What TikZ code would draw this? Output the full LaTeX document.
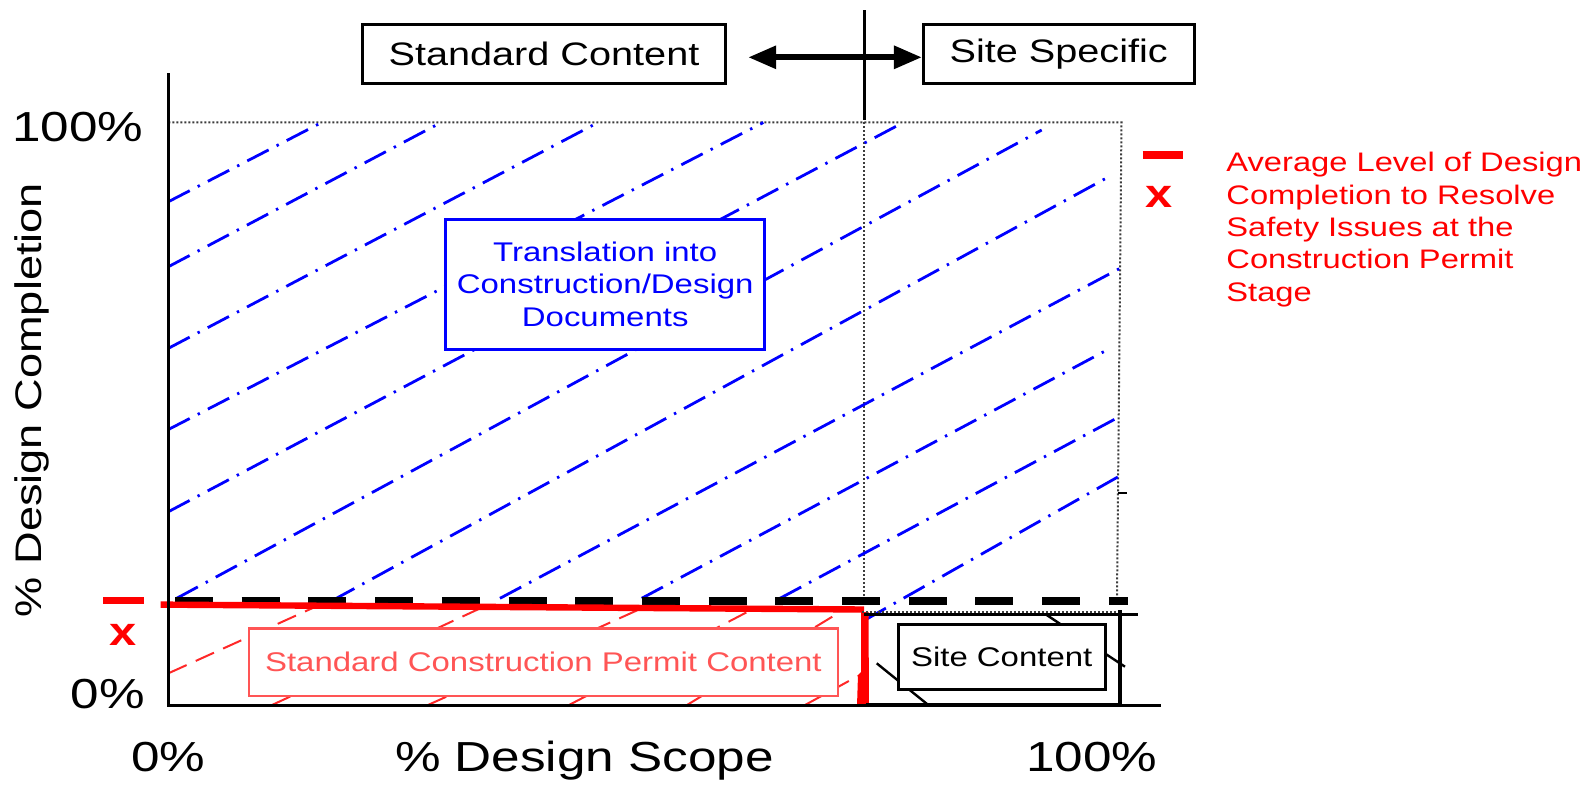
\documentclass[tikz,border=0pt]{standalone}
\usepackage{fontspec}
\setmainfont[FakeStretch=1.22]{Liberation Sans}
\usetikzlibrary{arrows.meta}

\definecolor{lightred}{RGB}{255,85,85}
\definecolor{hatchred}{RGB}{255,40,40}
\definecolor{dotgray}{RGB}{60,60,60}

\begin{document}
\begin{tikzpicture}[x=0.5pt,y=-0.5pt,
  biglbl/.style={inner sep=0pt, font=\fontsize{21pt}{25pt}\selectfont},
  medlbl/.style={font=\fontsize{13.5pt}{16.3pt}\selectfont},
  hdrbox/.style={draw, line width=1.5pt, inner sep=0pt, minimum height=29.5pt,
    font=\fontsize{16.25pt}{19pt}\selectfont},
  dotline/.style={dotgray, line width=1pt, dash pattern=on 1pt off 1pt},
  bluehatch/.style={blue, line width=1.4pt, dash pattern=on 12pt off 4.5pt on 1.2pt off 4.5pt},
  redhatch/.style={hatchred, line width=1pt, dash pattern=on 10pt off 5pt},
  dblarrow/.style={{Triangle[length=14pt,width=11pt]}-{Triangle[length=14pt,width=11pt]}, line width=3pt},
  xmark/.style={red, inner sep=0pt, font=\bfseries\fontsize{20pt}{24pt}\selectfont},
]
\useasboundingbox (0,0) rectangle (1592,784);

% dotted frame of the chart area
\draw[dotline] (168.4,122.4) -- (1121.5,122.4) -- (1117,598);
\draw[dotline] (863.5,122.4) -- (863.5,596);
\draw[line width=0.8pt] (1118,493) -- (1127,493);

% hatching of the design documents region
\foreach \a/\b/\c/\d in {168.4/201.7/321.6/122.5, 168.4/266.7/441/122.5,
    168.4/348.3/598/122.5, 168.4/429.5/763.3/122.5, 168.4/511.7/903.3/122.5,
    176.7/598.3/1041.7/130, 333.3/600/1112/175, 500/598.3/1120/268.3,
    641.7/598.3/1108.3/349.3, 780/598.3/1117/418, 865/620/1118.3/476.7}
  \draw[bluehatch] (\a,\b) -- (\c,\d);

% hatching of the permit content region
\foreach \a/\b/\c/\d in {168.4/673.3/316/606.5, 272/705/483/607, 428/705/640/609,
    569/705/752/609.5, 687/705/840/612, 805/705/858/676}
  \draw[redhatch] (\a,\b) -- (\c,\d);

% region labels
\node[draw=blue, line width=1.5pt, fill=white, text=blue, minimum width=159.4pt,
  minimum height=65pt, align=center, medlbl, inner sep=0pt] (transl) at (605.2,284.3)
  {Translation into\\Construction/Design\\Documents};
\node[draw=lightred, line width=1.2pt, fill=white, text=lightred, minimum width=294.6pt,
  minimum height=33.85pt, medlbl, inner sep=0pt] (stdpermit) at (543.4,662.2)
  {Standard Construction Permit Content};

% average completion level
\draw[line width=4pt, dash pattern=on 19pt off 14.35pt] (175,601.2) -- (1128,601.2);
\draw[red, line width=3.2pt] (160.7,604.6) -- (864,609.5);
\fill[red] (861,612) -- (868.5,612) -- (869,706) -- (857,706) -- (858,675) -- (861,672) -- cycle;

% site specific block
\draw[line width=1.5pt] (864,614) -- (1138,614);
\draw[dotline] (862,611.5) -- (1120,611.5);
\draw[line width=2pt] (1120,610) -- (1120,706);
\draw[line width=2.2pt] (866,705) -- (1120,705);
\draw[line width=1.2pt] (876.7,663.3) -- (928.3,705);
\draw[line width=1.2pt] (1046.7,615) -- (1125,666.7);
\node[draw, line width=1.5pt, fill=white, minimum width=103.35pt, minimum height=32.5pt,
  inner sep=0pt, medlbl] (site) at (1001.7,656.5) {Site Content};

% axes
\draw[line width=1.5pt] (168.4,73) -- (168.4,705.7) -- (1160.6,705.7);

% header
\node[hdrbox, minimum width=181.2pt] (stdbox) at (544,53.8) {Standard Content};
\node[hdrbox, minimum width=135.3pt] (sitebox) at (1058.7,53.8) {Site Specific};
\draw[dblarrow, shorten <=10.75pt] ([yshift=-1.75pt]stdbox.east) -- ([yshift=-1.75pt]sitebox.west);
\draw[line width=1.5pt] (864,10.3) -- (864,119.8);

% axis labels
\node[biglbl, anchor=base east] (y100) at (143.5,141.7) {100\%};
\node[biglbl, anchor=base east] (y0) at (145.4,708) {0\%};
\node[biglbl, anchor=base] (x0) at (168.5,771.7) {0\%};
\node[biglbl, anchor=base] (xlab) at (584.5,771.7) {\% Design Scope};
\node[biglbl, anchor=base] (x100) at (1092,771.7) {100\%};
\node[inner sep=0pt, font=\fontsize{18.5pt}{22pt}\selectfont, rotate=90, anchor=base]
  (ylab) at (41.7,400) {\% Design Completion};

% markers on the vertical axis
\draw[red, line width=3.5pt] (103,600) -- (143.5,600);
\node[xmark] (ymark) at (123.5,634.5) {x};

% legend
\draw[red, line width=3.8pt] (1142.7,155) -- (1182.7,155);
\node[xmark] (legx) at (1159.2,196.5) {x};
\node[red, inner sep=0pt, anchor=north west, align=left,
  font=\fontsize{13.4pt}{16.15pt}\selectfont] (legtext) at (1226,152)
  {Average Level of Design\\Completion to Resolve\\Safety Issues at the\\Construction Permit\\Stage};
\end{tikzpicture}
\end{document}
